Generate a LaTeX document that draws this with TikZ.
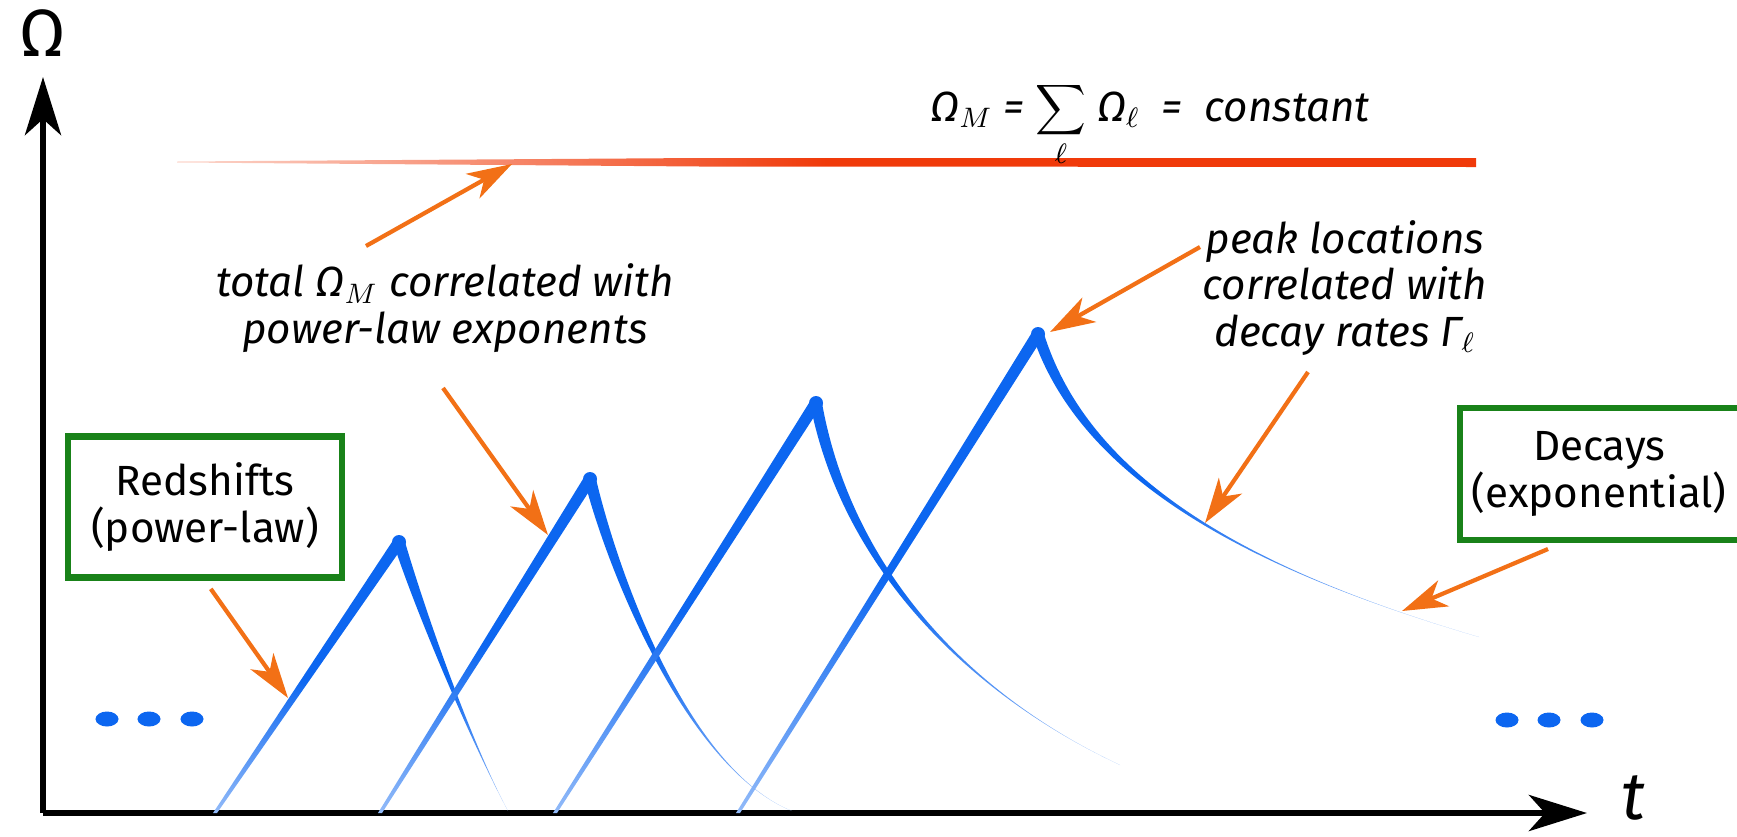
\documentclass[tikz,border=0pt]{standalone}
\usepackage{fontspec}
\setmainfont{Fira Sans}
\usepackage{xcolor}
\usepackage{tikz}
\usetikzlibrary{arrows.meta}
\definecolor{azul}{RGB}{12, 102, 240}
\definecolor{naranja}{RGB}{242, 112, 22}
\definecolor{rojo}{RGB}{240, 58, 10}
\definecolor{verde}{RGB}{25, 130, 25}

\begin{document}
\begin{tikzpicture}[x=0.01cm, y=-0.01cm,
    box/.style={rectangle, draw=verde, line width=1.8pt, fill=white,
                align=center, font=\fontsize{12}{13.2}\selectfont},
    note/.style={align=center, font=\fontsize{12}{13.2}\selectfont\itshape},
    axis/.style={-{Stealth[length=5.8mm, width=3.6mm, inset=1.6mm]}, line width=1.8pt},
    arrow/.style={-{Stealth[length=4.5mm, width=2.8mm, inset=1.3mm]}, line width=1.2pt, naranja},
    brush/.style={top color=azul, bottom color=azul!45, middle color=azul}
]
\useasboundingbox (0,0) rectangle (1737,836);

% axes
\coordinate (o) at (43,813);
\coordinate (ytop) at (43,77);
\coordinate (xend) at (1587,813);
\draw [axis] (o) -- (ytop);
\draw [axis] (o) -- (xend);
\node (omega) at (43,33) {\fontsize{19}{21}\selectfont Ω};
\node (tlab) [anchor=base, inner sep=0pt] at (1633,819) {\fontsize{19}{21}\selectfont\itshape t};

% constant total
\shade [left color=rojo!20, right color=rojo, middle color=rojo] (177,161.5) -- (700,158)
    -- (1476,158) -- (1476,167) -- (700,166.5) -- (177,162.5) -- cycle;
\node (formula) [note, anchor=base] at (1150,121)
    {Ω$_M$ = $\displaystyle\sum_{\ell}$ Ω$_\ell$ \ = \ constant};

% the four species
\shade [brush] (213,813) -- (392,542) -- (406,542) -- (217,813) -- cycle;
\shade [brush] (393,542) .. controls (415,610) and (470,740) .. (508,811)
    .. controls (470,740) and (425,610) .. (405,542) -- cycle;
\fill [azul] (399,542) circle [radius=0.7mm];

\shade [brush] (378,813) -- (583,479) -- (597,479) -- (382,813) -- cycle;
\shade [brush] (584,479) .. controls (610,580) and (690,770) .. (792,811)
    .. controls (690,770) and (620,580) .. (596,479) -- cycle;
\fill [azul] (590,479) circle [radius=0.7mm];

\shade [brush] (553,813) -- (809,403) -- (823,403) -- (557,813) -- cycle;
\shade [brush] (810,403) .. controls (840,560) and (960,690) .. (1120,765)
    .. controls (960,690) and (850,560) .. (822,403) -- cycle;
\fill [azul] (816,403) circle [radius=0.7mm];

\shade [brush] (736,813) -- (1031,334) -- (1045,334) -- (740,813) -- cycle;
\shade [brush] (1032,334) .. controls (1080,480) and (1250,570) .. (1479,637)
    .. controls (1250,570) and (1090,480) .. (1044,334) -- cycle;
\fill [azul] (1038,334) circle [radius=0.7mm];

\foreach \x in {107,149,192}
    \fill [azul] (\x,719) ellipse [x radius=1.15mm, y radius=0.75mm];
\foreach \x in {1507,1549,1592}
    \fill [azul] (\x,720) ellipse [x radius=1.15mm, y radius=0.75mm];

% labels
\node (redshift) [box, minimum width=2.74cm, minimum height=1.41cm] at (205,507)
    {Redshifts\\(power-law)};
\node (decays) [box, minimum width=3.2cm, minimum height=1.32cm, anchor=west] at (1457,474)
    {Decays\hspace*{0.5cm}\\(exponential)\hspace*{0.5cm}};
\node (total) [note] at (445,308) {total Ω$_M$ correlated with\\power-law exponents};
\node (peaks) [note] at (1345,288) {peak locations\\correlated with\\decay rates Γ$_\ell$};

% pointers
\coordinate (online) at (512,164);
\coordinate (totaltail) at (366,246);
\coordinate (onrise) at (548,535);
\coordinate (risetail) at (443,388);
\coordinate (onfirst) at (288,698);
\coordinate (onpeak) at (1050,332);
\coordinate (peaktail) at (1200,247);
\coordinate (ondecay) at (1205,523);
\coordinate (decaytail) at (1308,372);
\coordinate (ontail) at (1402,611);
\coordinate (boxtail) at (1548,549);
\draw [arrow] (totaltail) -- (online);
\draw [arrow] (risetail) -- (onrise);
\draw [arrow, shorten <=1mm] (redshift.south) -- (onfirst);
\draw [arrow] (peaktail) -- (onpeak);
\draw [arrow] (decaytail) -- (ondecay);
\draw [arrow] (boxtail) -- (ontail);
\end{tikzpicture}
\end{document}
